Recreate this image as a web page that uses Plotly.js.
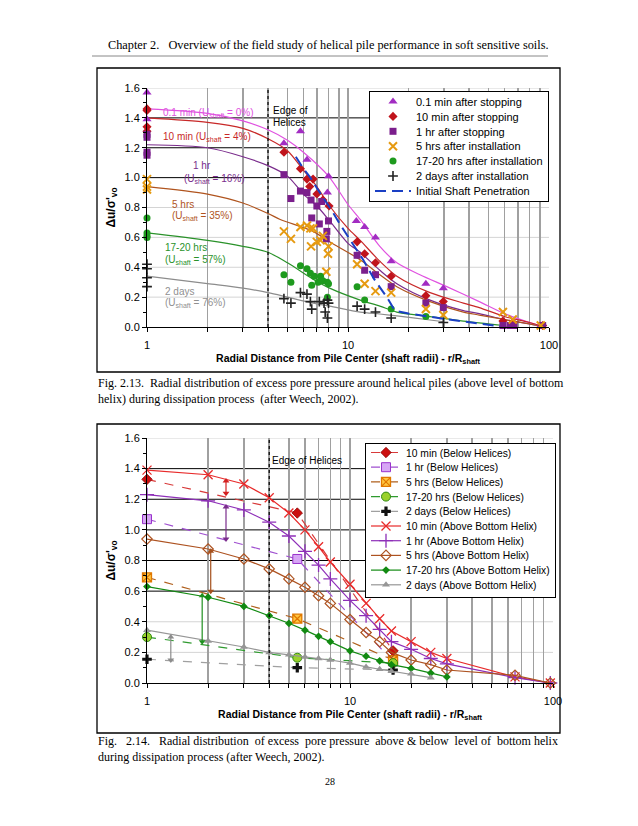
<!DOCTYPE html>
<html>
<head>
<meta charset="utf-8">
<script src="https://cdn.plot.ly/plotly-3.0.1.min.js"></script>
<style>
  html, body { margin: 0; padding: 0; background: #fff; }
  #page { width: 638px; height: 826px; }
</style>
</head>
<body>
<div id="page"></div>
<script>
// Fig. 2.13 / 2.14 - excess pore pressure vs radial distance (after Weech, 2002)

const SANS = 'Liberation Sans, Arial, sans-serif';
const SERIF = 'Liberation Serif, Times New Roman, serif';

// ---------- Fig 2.13 : measured points ----------
const triR = [1, 1, 4.8, 5.8, 6.25, 8.0, 7.9, 11.0, 12.1, 13.7, 16.4, 24.4, 29.8, 59, 91];
const triU = [1.57, 1.39, 1.23, 1.31, 1.12, 1.01, 0.90, 0.71, 0.67, 0.60, 0.44, 0.29, 0.26, 0.01, 0.01];

const diaR = [1, 1, 1, 1, 4.8, 5.8, 6.25, 6.7, 6.45, 7.0, 7.5, 8.05, 11.1, 12.1, 13.7, 16.4, 24.4, 29.8, 59, 66, 93];
const diaU = [1.46, 1.45, 1.34, 1.31, 1.17, 1.06, 0.99, 0.99, 0.94, 0.89, 0.85, 0.81, 0.57, 0.49, 0.43, 0.34, 0.21, 0.17, 0.04, 0.03, 0.01];

const sqR = [1, 1, 1, 1, 4.8, 5.2, 5.8, 6.25, 6.55, 7.0, 7.4, 6.6, 7.2, 8.0, 7.85, 7.8, 11.1, 12.1, 13.7, 16.4, 24.4, 29.8, 59, 64, 67, 93];
const sqU = [1.29, 1.27, 1.17, 1.15, 1.02, 0.86, 0.91, 0.90, 0.85, 0.81, 0.84, 0.73, 0.69, 0.71, 0.64, 0.59, 0.48, 0.38, 0.35, 0.27, 0.16, 0.13, 0.01, 0.01, 0.01, 0.01];

const xR = [1, 1, 1, 4.8, 5.2, 5.8, 6.25, 6.5, 6.7, 6.55, 7.0, 7.3, 7.5, 8.0, 7.95, 7.8, 11.1, 12.1, 13.7, 16.4, 24.4, 29.8, 59, 66, 91];
const xU = [0.99, 0.94, 0.92, 0.64, 0.59, 0.67, 0.68, 0.66, 0.66, 0.54, 0.57, 0.58, 0.61, 0.54, 0.49, 0.37, 0.42, 0.29, 0.24, 0.23, 0.12, 0.08, 0.10, 0.05, 0.01];

const cR = [1, 1, 1, 1, 4.8, 5.2, 5.8, 6.25, 6.5, 6.8, 6.6, 7.1, 7.3, 7.5, 7.9, 8.0, 7.9, 11.1, 12.1, 16.4, 24.4];
const cU = [0.73, 0.63, 0.61, 0.60, 0.35, 0.30, 0.41, 0.39, 0.36, 0.34, 0.28, 0.30, 0.34, 0.31, 0.30, 0.29, 0.20, 0.27, 0.18, 0.12, 0.07];

const pR = [1, 1, 1, 1, 4.8, 5.2, 5.8, 6.25, 6.5, 6.6, 7.2, 7.6, 7.9, 8.0, 7.7, 7.9, 11.1, 12.1, 13.7, 16.4, 29.8];
const pU = [0.42, 0.39, 0.33, 0.27, 0.19, 0.16, 0.23, 0.22, 0.17, 0.12, 0.17, 0.16, 0.18, 0.16, 0.10, 0.06, 0.14, 0.12, 0.10, 0.06, 0.03];

const penR = [5.5, 6.0, 6.5, 7.0, 8.3, 9.1, 10.4, 11.9, 13.5, 15.6, 17.1, 20, 30, 42, 57];
const penU = [1.14, 1.06, 1.0, 0.93, 0.78, 0.69, 0.57, 0.45, 0.32, 0.20, 0.11, 0.09, 0.055, 0.03, 0.005];

// ---------- Fig 2.13 : fitted curves ----------
const fitMagR = [1, 2, 3, 4, 5, 6, 8, 10, 11.5, 14.4, 17.5, 22.8, 31, 45, 60, 80, 95];
const fitMagU = [1.46, 1.43, 1.38, 1.32, 1.25, 1.17, 1.01, 0.82, 0.72, 0.54, 0.43, 0.35, 0.27, 0.17, 0.09, 0.03, 0.0];
const fitRedR = [1, 2, 3, 4, 5, 6, 7, 8, 10, 11.5, 14.4, 17.5, 25.6, 37.5, 45, 60, 80, 95];
const fitRedU = [1.40, 1.37, 1.33, 1.26, 1.18, 1.05, 0.94, 0.82, 0.66, 0.58, 0.44, 0.34, 0.23, 0.16, 0.13, 0.07, 0.03, 0.0];
const fitPurR = [1, 2, 3, 4, 5, 6, 7, 8, 10, 11.5, 14.4, 17.5, 25.6, 37.5, 45, 60, 80, 95];
const fitPurU = [1.22, 1.20, 1.14, 1.08, 1.01, 0.89, 0.81, 0.72, 0.56, 0.50, 0.38, 0.29, 0.18, 0.11, 0.09, 0.05, 0.02, 0.0];
const fitBrnR = [1, 2, 3, 4, 4.6, 6.7, 8.1, 11.5, 14.4, 17.5, 25.6, 37.5, 45, 60, 80, 95];
const fitBrnU = [0.94, 0.89, 0.83, 0.76, 0.72, 0.64, 0.57, 0.45, 0.35, 0.27, 0.17, 0.10, 0.08, 0.05, 0.02, 0.0];
const fitGrnR = [1, 2, 3, 4, 5, 6.7, 8.1, 11.5, 14.4, 17.5, 25.6, 37.5, 60];
const fitGrnU = [0.63, 0.58, 0.54, 0.50, 0.43, 0.32, 0.26, 0.18, 0.14, 0.10, 0.07, 0.04, 0.01];
const fitGryR = [1, 2, 3, 4, 5, 6.7, 8.1, 11.5, 14.4, 17.5, 25.6, 30];
const fitGryU = [0.34, 0.29, 0.26, 0.23, 0.20, 0.16, 0.14, 0.10, 0.087, 0.074, 0.047, 0.035];

// ---------- Fig 2.14 : above bottom helix ----------
const aboveR = [1, 2, 3, 4, 5, 6, 7, 8, 10, 12, 14, 16, 20, 25, 30, 65, 97];
const a10minU = [1.39, 1.36, 1.30, 1.21, 1.11, 1.00, 0.89, 0.79, 0.645, 0.52, 0.42, 0.34, 0.27, 0.20, 0.16, 0.04, 0.0];
const a1hrU = [1.23, 1.19, 1.13, 1.05, 0.96, 0.86, 0.77, 0.68, 0.54, 0.44, 0.35, 0.27, 0.22, 0.16, 0.125, 0.035, 0.0];
const a5hrU = [0.94, 0.875, 0.81, 0.745, 0.68, 0.625, 0.57, 0.52, 0.415, 0.33, 0.27, 0.20, 0.15, 0.12, 0.085, 0.05, 0.0];
const a17hrR = [1, 2, 3, 4, 5, 6, 7, 8, 10, 12, 14, 16, 20, 25, 30];
const a17hrU = [0.63, 0.56, 0.50, 0.44, 0.39, 0.345, 0.305, 0.27, 0.21, 0.175, 0.145, 0.12, 0.095, 0.065, 0.04];
const a2dayR = [1, 2, 3, 4, 5, 6, 7, 8, 10, 12, 14, 16, 20, 25];
const a2dayU = [0.345, 0.275, 0.235, 0.20, 0.185, 0.17, 0.16, 0.15, 0.13, 0.105, 0.09, 0.077, 0.06, 0.035];

// ---------- Fig 2.14 : below helices ----------
const belowR = [1, 5.5, 16.3];
const b10minU = [1.33, 1.11, 0.21];
const b1hrU = [1.07, 0.81, 0.14];
const b5hrU = [0.69, 0.42, 0.15];
const b17hrU = [0.30, 0.165, 0.13];
const b2dayU = [0.155, 0.10, 0.085];

// difference arrows (below -> above) in Fig 2.14
const arrowR = [2.45, 2.45, 2.06, 1.87, 1.31];
const arrowTop = [1.32, 1.15, 0.86, 0.57, 0.30];
const arrowBot = [1.24, 0.94, 0.60, 0.27, 0.15];
const arrowCol = ['#d42020', '#7a2c8c', '#a5501c', '#1f8f1f', '#8c8c8c'];

// shared axis ticks
const rMajor = [1, 10, 100];
const rMinor = [2, 3, 4, 5, 6, 7, 8, 9, 20, 30, 40, 50, 60, 70, 80, 90];
const uGrid = [0.2, 0.4, 0.6, 0.8, 1.0, 1.2, 1.4, 1.6];
const topDarkGrid = [1.0, 1.2, 1.4];
const botDarkGrid = [0.6, 0.8, 1.0, 1.2, 1.4];
const edgeR = 4;

const W = 638, H = 826;
const px = v => v / W;
const py = v => 1 - v / H;
const lg = Math.log10;

function xAxis(domain, anchor) {
    return {
        type: 'log', range: [0, 2], domain: domain, anchor: anchor,
        tickmode: 'array', tickvals: rMajor, ticktext: rMajor.map(String),
        showgrid: true, gridcolor: '#a0a0a0', gridwidth: 1.5,
        ticks: 'outside', ticklen: 4, tickcolor: '#000', ticklabelstandoff: 4,
        minor: { tickmode: 'array', tickvals: rMinor, ticks: 'outside', ticklen: 4, tickcolor: '#000',
                 showgrid: true, gridcolor: '#a0a0a0', gridwidth: 1.5 },
        showline: true, linecolor: '#000', linewidth: 1, zeroline: false,
        tickfont: { family: SANS, size: 11, color: '#000' },
        title: {
            text: '<b>Radial Distance from Pile Center (shaft radii) - r/R<sub>shaft</sub></b>',
            font: { family: SANS, size: 10.5, color: '#000' }, standoff: 4,
        },
    };
}

function yAxis(domain, anchor) {
    return {
        range: [0, 1.6], dtick: 0.2, tickformat: '.1f', domain: domain, anchor: anchor,
        showgrid: false,
        ticks: 'outside', ticklen: 4, tickcolor: '#000',
        minor: { dtick: 0.1, ticks: 'outside', ticklen: 3, tickcolor: '#000' },
        showline: true, linecolor: '#000', linewidth: 1, zeroline: false,
        tickfont: { family: SANS, size: 11, color: '#000' },
        title: { text: "<b>\u0394u/\u03c3'<sub>vo</sub></b>", font: { family: SANS, size: 12, color: '#000' }, standoff: 6 },
    };
}

function pts(r, u, name, marker) {
    return { x: r, y: u, name: name, type: 'scatter', mode: 'markers', marker: marker, cliponaxis: false,
        xaxis: 'x', yaxis: 'y', legend: 'legend', hoverinfo: 'skip' };
}

function fit(r, u, color) {
    return { x: r, y: u, type: 'scatter', mode: 'lines', line: { color: color, width: 1.2, shape: 'spline', smoothing: 0.8 },
        xaxis: 'x', yaxis: 'y', showlegend: false, hoverinfo: 'skip' };
}

function below(r, u, name, color, marker) {
    return { x: r, y: u, name: name, type: 'scatter', mode: 'lines+markers', line: { color: color, width: 1.2, dash: 'dash' },
        marker: marker, cliponaxis: false, xaxis: 'x2', yaxis: 'y2', legend: 'legend2', hoverinfo: 'skip' };
}

function above(r, u, name, color, marker) {
    return { x: r, y: u, name: name, type: 'scatter', mode: 'lines+markers', line: { color: color, width: 1.2 },
        marker: marker, cliponaxis: false, xaxis: 'x2', yaxis: 'y2', legend: 'legend2', hoverinfo: 'skip' };
}

const traces = [
    fit(fitMagR, fitMagU, '#e052e0'),
    fit(fitRedR, fitRedU, '#c82828'),
    fit(fitPurR, fitPurU, '#7a2c8c'),
    fit(fitBrnR, fitBrnU, '#b0541e'),
    fit(fitGrnR, fitGrnU, '#2a922a'),
    fit(fitGryR, fitGryU, '#8c8c8c'),
    pts(triR, triU, '0.1 min after stopping', { symbol: 'triangle-up', size: 8, color: '#a22cc2' }),
    pts(diaR, diaU, '10 min after stopping', { symbol: 'diamond', size: 7, color: '#c0141c' }),
    pts(sqR, sqU, '1 hr after stopping', { symbol: 'square', size: 7, color: '#7b1f8c' }),
    pts(xR, xU, '5 hrs after installation', { symbol: 'x-thin-open', size: 8, color: '#e69a10', line: { width: 2, color: '#e69a10' } }),
    pts(cR, cU, '17-20 hrs after installation', { symbol: 'circle', size: 7, color: '#1e9a1e' }),
    pts(pR, pU, '2 days after installation', { symbol: 'cross-thin-open', size: 7, color: '#222', line: { width: 1.6, color: '#222' } }),
    { x: penR, y: penU, name: 'Initial Shaft Penetration', type: 'scatter', mode: 'lines',
      line: { color: '#1a3fc4', width: 2, dash: '11px,6px' }, xaxis: 'x', yaxis: 'y', legend: 'legend', hoverinfo: 'skip' },

    below(belowR, b10minU, '10 min (Below Helices)', '#d83a3a', { symbol: 'diamond', size: 8, color: '#cc1010', line: { width: 0.8, color: '#8a0000' } }),
    below(belowR, b1hrU, '1 hr (Below Helices)', '#a050d0', { symbol: 'square', size: 9, color: '#d7a6f5', line: { width: 1, color: '#9933cc' } }),
    below(belowR, b5hrU, '5 hrs (Below Helices)', '#b0601e', { symbol: 'square-x', size: 9, color: '#ffc640', line: { width: 1.3, color: '#e07800' } }),
    below(belowR, b17hrU, '17-20 hrs (Below Helices)', '#2f9a2f', { symbol: 'circle', size: 9, color: '#9ad12c', line: { width: 1, color: '#2f8a10' } }),
    below(belowR, b2dayU, '2 days (Below Helices)', '#a0a0a0', { symbol: 'cross', size: 8, color: '#111' }),
    above(aboveR, a10minU, '10 min (Above Bottom Helix)', '#e82a2a', { symbol: 'x-thin-open', size: 9, color: '#e82a2a', line: { width: 1.3, color: '#e82a2a' } }),
    above(aboveR, a1hrU, '1 hr (Above Bottom Helix)', '#8e2fb8', { symbol: 'cross-thin-open', size: 10, color: '#8e2fb8', line: { width: 1.3, color: '#8e2fb8' } }),
    above(aboveR, a5hrU, '5 hrs (Above Bottom Helix)', '#ad5220', { symbol: 'diamond-open', size: 8, color: '#ad5220', line: { width: 1.2, color: '#ad5220' } }),
    above(a17hrR, a17hrU, '17-20 hrs (Above Bottom Helix)', '#128a12', { symbol: 'diamond', size: 6, color: '#128a12' }),
    above(a2dayR, a2dayU, '2 days (Above Bottom Helix)', '#969696', { symbol: 'triangle-up', size: 7, color: '#969696' }),
];

// double-headed difference arrows, drawn as short vertical traces
arrowR.forEach((r, i) => traces.push({
    x: [r, r], y: [arrowBot[i], arrowTop[i]], type: 'scatter', mode: 'lines+markers',
    line: { color: arrowCol[i], width: 1.2 },
    marker: { symbol: ['triangle-down', 'triangle-up'], size: 6, color: arrowCol[i] },
    xaxis: 'x2', yaxis: 'y2', showlegend: false, hoverinfo: 'skip',
}));

// in-plot labels of Fig 2.13 (annotation x is log10 on log axes)
const curveLabels = [
    { r: 1.18, u: 1.43, text: '0.1 min (U<sub>shaft</sub> = 0%)', color: '#e052e0' },
    { r: 1.18, u: 1.27, text: '10 min (U<sub>shaft</sub> = 4%)', color: '#c82828' },
    { r: 1.65, u: 1.08, text: '1 hr', color: '#7a2c8c' },
    { r: 1.5, u: 0.99, text: '(U<sub>shaft</sub> = 16%)', color: '#7a2c8c' },
    { r: 1.3, u: 0.82, text: '5 hrs', color: '#b0541e' },
    { r: 1.3, u: 0.74, text: '(U<sub>shaft</sub> = 35%)', color: '#b0541e' },
    { r: 1.2, u: 0.53, text: '17-20 hrs', color: '#2a922a' },
    { r: 1.2, u: 0.45, text: '(U<sub>shaft</sub> = 57%)', color: '#2a922a' },
    { r: 1.2, u: 0.24, text: '2 days', color: '#909090' },
    { r: 1.2, u: 0.16, text: '(U<sub>shaft</sub> = 76%)', color: '#909090' },
    { r: 4.15, u: 1.45, text: 'Edge of', color: '#000' },
    { r: 4.15, u: 1.37, text: 'Helices', color: '#000' },
];

const annotations = curveLabels.map(l => ({
    xref: 'x', yref: 'y', x: lg(l.r), y: l.u, text: l.text, showarrow: false, xanchor: 'left', yanchor: 'middle',
    font: { family: SANS, size: 10, color: l.color },
}));

annotations.push({
    xref: 'x2', yref: 'y2', x: lg(4.05), y: 1.45, text: 'Edge of Helices', showarrow: false, xanchor: 'left',
    font: { family: SANS, size: 10, color: '#000' },
});

// page text
const pageText = [
    { x: 328, y: 45, size: 12.3, text: 'Chapter 2.   Overview of the field study of helical pile performance in soft sensitive soils.', anchor: 'center' },
    { x: 96, y: 383, text: 'Fig. 2.13.  Radial distribution of excess pore pressure around helical piles (above level of bottom', anchor: 'left' },
    { x: 96, y: 399, text: 'helix) during dissipation process  (after Weech, 2002).', anchor: 'left' },
    { x: 96, y: 741, text: 'Fig.   2.14.   Radial distribution  of excess  pore pressure  above &amp; below  level of  bottom helix', anchor: 'left' },
    { x: 96, y: 757, text: 'during dissipation process (after Weech, 2002).', anchor: 'left' },
    { x: 330, y: 781, text: '28', anchor: 'center', size: 10 },
];
pageText.forEach(t => annotations.push({
    xref: 'paper', yref: 'paper', x: px(t.x), y: py(t.y), text: t.text, showarrow: false,
    xanchor: t.anchor, yanchor: 'middle', font: { family: SERIF, size: t.size || 12, color: '#000' },
}));

const shapes = [
    { type: 'line', xref: 'paper', yref: 'paper', x0: px(92), x1: px(548), y0: py(56), y1: py(56), line: { color: '#888', width: 1 } },
    { type: 'rect', xref: 'paper', yref: 'paper', x0: px(97), x1: px(560), y0: py(68), y1: py(372), line: { color: '#000', width: 1.3 } },
    { type: 'rect', xref: 'paper', yref: 'paper', x0: px(97), x1: px(560), y0: py(424), y1: py(733), line: { color: '#000', width: 1.3 } },
];
// horizontal grid: light grey, black where the original shows dark lines
[['x', 'y', topDarkGrid], ['x2', 'y2', botDarkGrid]].forEach(([xa, ya, dark]) => {
    uGrid.forEach(v => shapes.push({
        type: 'line', xref: xa + ' domain', yref: ya, x0: 0, x1: 1, y0: v, y1: v, layer: 'below',
        line: { color: dark.includes(v) ? '#000' : '#d4d4d4', width: 1 },
    }));
    shapes.push({
        type: 'line', xref: xa, yref: ya + ' domain', x0: edgeR, x1: edgeR, y0: 0, y1: 1, layer: 'above',
        line: { color: '#000', width: 1.2, dash: 'dot' },
    });
});

const legendBase = {
    xanchor: 'left', yanchor: 'top', bgcolor: '#fff', bordercolor: '#000', borderwidth: 1, tracegroupgap: 0,
};

const layout = {
    width: W, height: H, margin: { l: 0, r: 0, t: 0, b: 0 },
    paper_bgcolor: '#fff', plot_bgcolor: 'rgba(0,0,0,0)', showlegend: true,
    xaxis: xAxis([px(147), px(549)], 'y'),
    yaxis: yAxis([py(327), py(88)], 'x'),
    xaxis2: xAxis([px(147), px(553)], 'y2'),
    yaxis2: yAxis([py(683), py(438)], 'x2'),
    legend: { ...legendBase, x: px(369), y: py(91), itemwidth: 36, font: { family: SANS, size: 11, color: '#000' } },
    legend2: { ...legendBase, x: px(365), y: py(443), itemwidth: 30, font: { family: SANS, size: 10.3, color: '#000' } },
    annotations: annotations,
    shapes: shapes,
};

// Plotly keeps legend rows >= 19px; the original rows are ~15px, so pack them after drawing
function packLegend(leg, step, lift, trim) {
    const items = Array.from(leg.querySelectorAll('g.traces'));
    if (!items.length) return;
    const top0 = items[0].getBoundingClientRect().top - lift;
    let shift = 0;
    items.forEach((g, i) => {
        const cur = g.getBoundingClientRect().top;
        const delta = top0 + i * step - cur;
        const m = /translate\(\s*([-\d.e]+)[ ,]+([-\d.e]+)\s*\)/.exec(g.getAttribute('transform') || '');
        if (m) g.setAttribute('transform', 'translate(' + m[1] + ',' + (parseFloat(m[2]) + delta) + ')');
        shift = delta;
    });
    const bg = leg.querySelector('rect.bg');
    if (bg) bg.setAttribute('height', parseFloat(bg.getAttribute('height')) + shift - trim);
}

Plotly.newPlot('page', traces, layout, { staticPlot: true }).then(gd => {
    gd.querySelectorAll('g.legend, g.legend2').forEach(leg => {
        if (leg.classList.contains('legend2')) packLegend(leg, 14.7, 6, 2);
        else packLegend(leg, 14.9, 5, 4);
    });
});
</script>
</body>
</html>
